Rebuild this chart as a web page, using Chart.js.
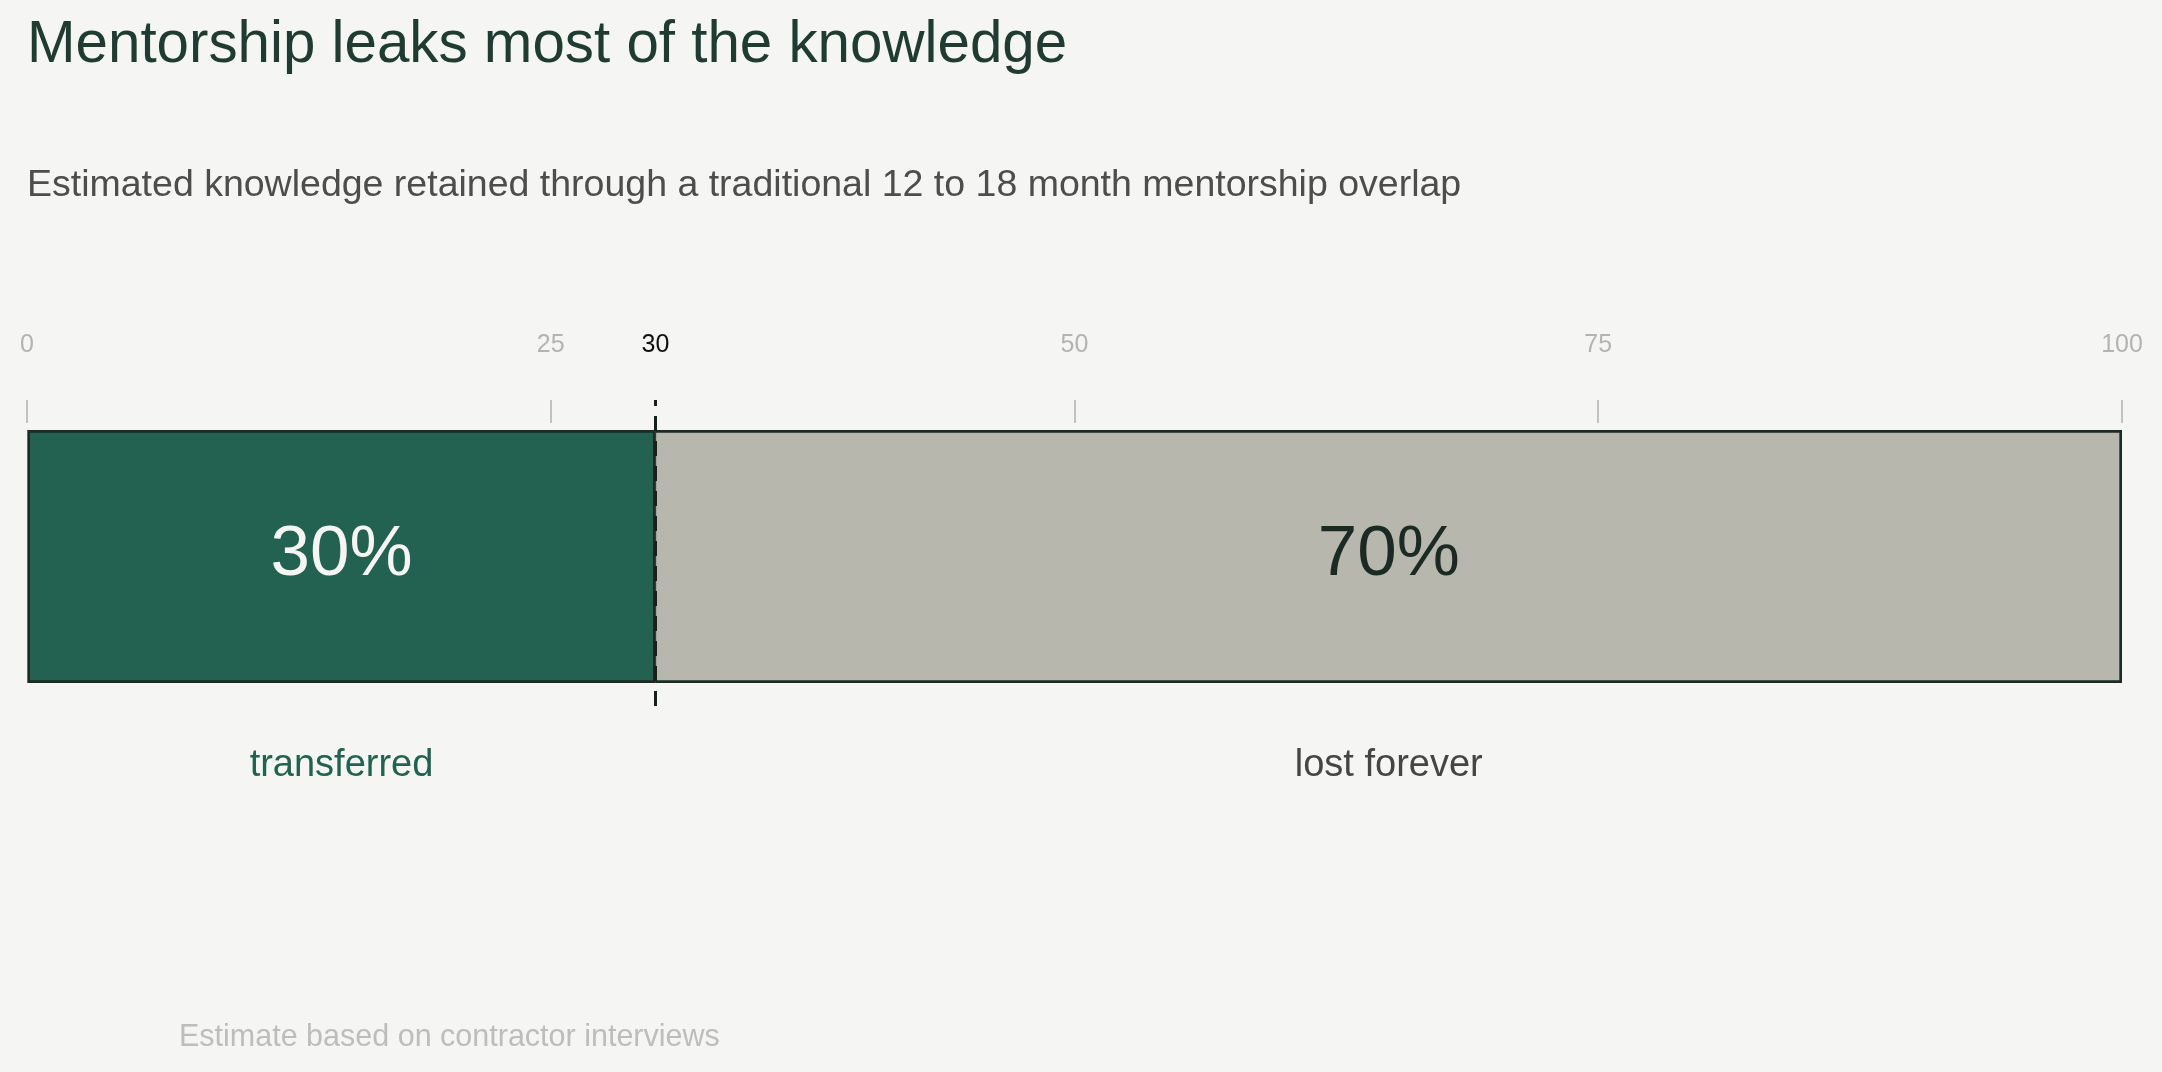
<!DOCTYPE html>
<html><head><meta charset="utf-8">
<script src="https://cdn.jsdelivr.net/npm/chart.js@4.4.0/dist/chart.umd.min.js"></script>
<style>
html,body{margin:0;padding:0;background:#f5f5f3;width:2162px;height:1072px;overflow:hidden;font-family:"Liberation Sans",Arial,sans-serif;}
#wrap{position:relative;width:2162px;height:1072px;}
canvas{position:absolute;left:0;top:0;}
.t{position:absolute;white-space:nowrap;line-height:1;}
</style></head><body>
<div id="wrap">
<canvas id="c" width="2162" height="1072"></canvas>
<div class="t" style="left:27px;top:13px;font-size:58.3px;color:#1f3b32">Mentorship leaks most of the knowledge</div>
<div class="t" style="left:27px;top:165px;font-size:37.5px;color:#4d4d4d">Estimated knowledge retained through a traditional 12 to 18 month mentorship overlap</div>
<div class="t" style="left:179px;top:1020px;font-size:30.5px;color:#bdbdbb">Estimate based on contractor interviews</div>
</div>
<script>
const categories = ['knowledge'];
const seriesNames = ['transferred', 'lost forever'];
const transferredValues = [30];
const lostValues = [70];
const tickValues = [0, 25, 30, 50, 75, 100];
const gridTickValues = [0, 25, 50, 75, 100];
const markerValue = 30;

const FONT = '"Liberation Sans", Arial, sans-serif';
const barBorder = '#1b2b25';

const overlay = {
  id: 'overlay',
  afterDatasetsDraw(chart) {
    const ctx = chart.ctx;
    const xs = chart.scales.x;
    const area = chart.chartArea;
    ctx.save();
    ctx.strokeStyle = '#c2c2c0';
    ctx.lineWidth = 2;
    gridTickValues.forEach(v => {
      const px = Math.round(xs.getPixelForValue(v));
      ctx.beginPath();
      ctx.moveTo(px, area.top - 30);
      ctx.lineTo(px, area.top - 7);
      ctx.stroke();
    });
    const mx = xs.getPixelForValue(markerValue);
    ctx.strokeStyle = '#142019';
    ctx.lineWidth = 3;
    ctx.setLineDash([15, 10]);
    ctx.beginPath();
    ctx.moveTo(mx, area.bottom + 23);
    ctx.lineTo(mx, area.top - 30);
    ctx.stroke();
    ctx.setLineDash([]);
    const valueColors = ['#f5f5f3', '#1c2a24'];
    const nameColors = ['#236250', '#454545'];
    ctx.textAlign = 'center';
    ctx.textBaseline = 'alphabetic';
    chart.data.datasets.forEach((ds, i) => {
      const el = chart.getDatasetMeta(i).data[0];
      const cx = (el.x + el.base) / 2;
      ctx.font = '71px ' + FONT;
      ctx.fillStyle = valueColors[i];
      ctx.fillText(ds.data[0] + '%', cx, el.y + 18);
      ctx.font = '38px ' + FONT;
      ctx.fillStyle = nameColors[i];
      ctx.fillText(seriesNames[i], cx, el.y + el.height / 2 + 93);
    });
    ctx.restore();
  }
};

new Chart(document.getElementById('c'), {
  type: 'bar',
  data: {
    labels: categories,
    datasets: [
      { label: seriesNames[0], data: transferredValues, backgroundColor: '#236250', borderColor: barBorder, borderWidth: 3, borderSkipped: false },
      { label: seriesNames[1], data: lostValues, backgroundColor: '#b8b7ae', borderColor: barBorder, borderWidth: { top: 3, right: 3, bottom: 3, left: 1 }, borderSkipped: false }
    ]
  },
  options: {
    indexAxis: 'y',
    responsive: false,
    animation: false,
    layout: { padding: { left: 27, right: 40, top: 330, bottom: 389 } },
    plugins: { legend: { display: false }, tooltip: { enabled: false } },
    datasets: { bar: { categoryPercentage: 1, barPercentage: 1 } },
    scales: {
      x: {
        type: 'linear', position: 'top', stacked: true, min: 0, max: 100,
        afterBuildTicks: s => { s.ticks = tickValues.map(v => ({ value: v })); },
        ticks: {
          autoSkip: false, maxRotation: 0, padding: 0,
          font: { family: FONT, size: 25 },
          color: c => (c.tick && c.tick.value === markerValue) ? '#111111' : '#b3b3b1',
          callback: v => String(v)
        },
        grid: { display: true, drawOnChartArea: false, drawTicks: true, tickLength: 70, tickColor: 'rgba(0,0,0,0)' },
        border: { display: false }
      },
      y: { stacked: true, display: false }
    }
  },
  plugins: [overlay]
});
</script>
</body></html>
